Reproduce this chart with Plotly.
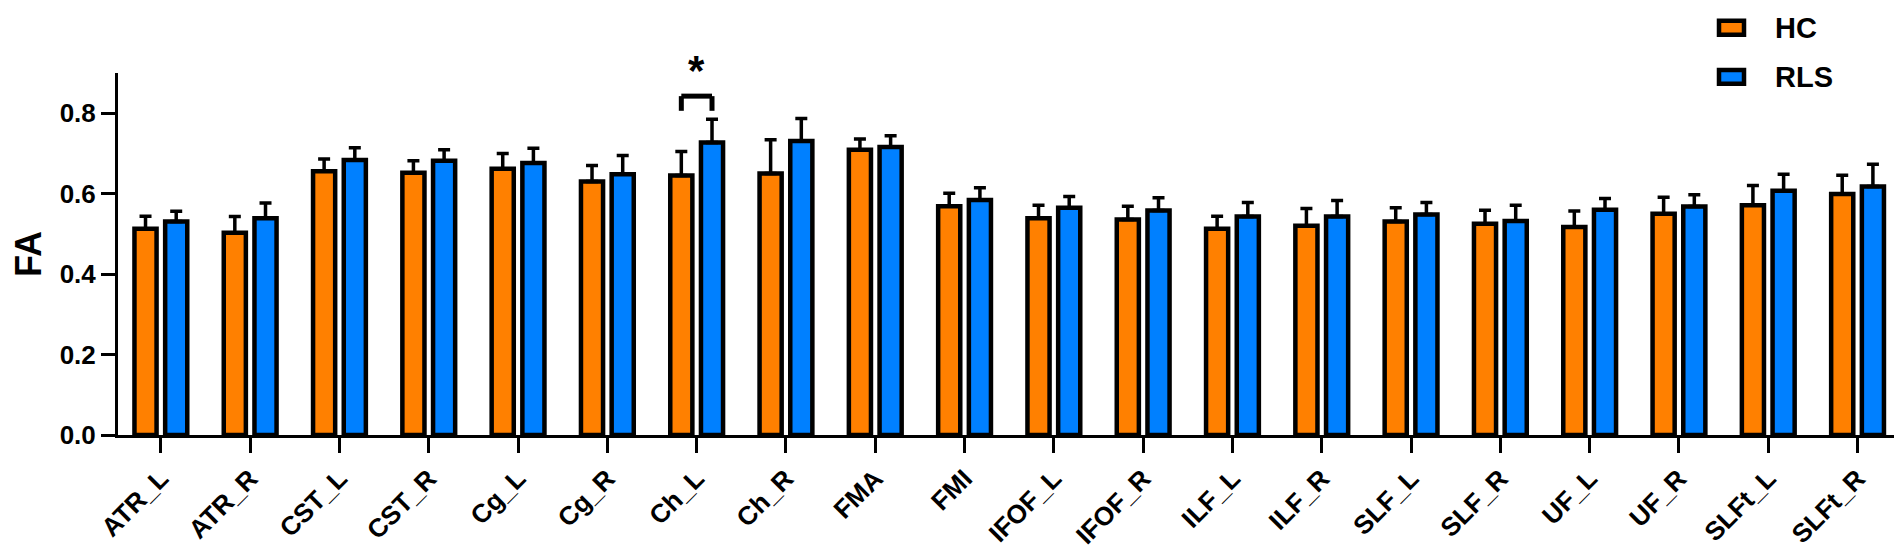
import plotly.graph_objects as go

# Data (mean FA and SD, upper error only)
tracts = ["ATR_L", "ATR_R", "CST_L", "CST_R", "Cg_L", "Cg_R", "Ch_L", "Ch_R", "FMA", "FMI",
          "IFOF_L", "IFOF_R", "ILF_L", "ILF_R", "SLF_L", "SLF_R", "UF_L", "UF_R", "SLFt_L", "SLFt_R"]
hc_mean = [0.513, 0.503, 0.656, 0.652, 0.662, 0.630, 0.645, 0.650, 0.709, 0.569,
           0.539, 0.536, 0.513, 0.520, 0.531, 0.525, 0.517, 0.550, 0.571, 0.599]
hc_err = [0.031, 0.040, 0.030, 0.030, 0.038, 0.040, 0.060, 0.084, 0.027, 0.032,
          0.032, 0.033, 0.031, 0.043, 0.034, 0.034, 0.040, 0.041, 0.049, 0.047]
rls_mean = [0.531, 0.539, 0.684, 0.682, 0.676, 0.648, 0.727, 0.731, 0.716, 0.584,
            0.565, 0.558, 0.543, 0.543, 0.548, 0.532, 0.560, 0.568, 0.607, 0.618]
rls_err = [0.025, 0.038, 0.030, 0.027, 0.037, 0.047, 0.058, 0.056, 0.028, 0.031,
           0.028, 0.032, 0.035, 0.040, 0.030, 0.039, 0.028, 0.029, 0.041, 0.055]

# significant pair
sig_tract = "Ch_L"
sig_label = "*"

ORANGE = "#FF8000"
BLUE = "#0080FF"
FONT = "Arial, Liberation Sans, sans-serif"

W, H = 1902, 548
ML, MR, MT, MB = 110, 6, 65, 115
BARGAP = 0.3125

fig = go.Figure()
for name, mean, err, color in [("HC", hc_mean, hc_err, ORANGE), ("RLS", rls_mean, rls_err, BLUE)]:
    fig.add_trace(go.Bar(
        name=name, x=tracts, y=mean,
        marker=dict(color=color, line=dict(color="black", width=4.5)),
        error_y=dict(type="data", array=err, arrayminus=[0] * len(err), symmetric=False,
                     color="black", thickness=3.5, width=6),
        showlegend=False,
    ))


def px_to_paper(px, py):
    return (px - ML) / (W - ML - MR), (H - MB - py) / (H - MT - MB)


# legend drawn by hand so the swatches match the original
for label, color, ytop in [("HC", ORANGE, 12), ("RLS", BLUE, 62)]:
    x0, y0 = px_to_paper(1711, ytop)
    x1, y1 = px_to_paper(1736, ytop + 14)
    fig.add_shape(type="rect", xref="paper", yref="paper", x0=x0, x1=x1, y0=y0, y1=y1,
                  fillcolor=color, line=dict(color="black", width=4.5))
    tx, ty = px_to_paper(1765, ytop + 7)
    fig.add_annotation(xref="paper", yref="paper", x=tx, y=ty, text=label, showarrow=False,
                       xanchor="left", yanchor="middle",
                       font=dict(family=FONT, size=29, color="black", weight="bold"))

# significance bracket over Ch_L
i = tracts.index(sig_tract)
off = (1 - BARGAP) / 4
y_top = 0.8425
y_leg = 0.806
for xa, ya, xb, yb in [(i - off, y_leg, i - off, y_top), (i - off, y_top, i + off, y_top),
                       (i + off, y_top, i + off, y_leg)]:
    fig.add_shape(type="line", xref="x", yref="y", x0=xa, y0=ya, x1=xb, y1=yb,
                  line=dict(color="black", width=5))
fig.add_annotation(x=i, y=y_top, xref="x", yref="y", text=sig_label, showarrow=False,
                   yanchor="bottom", yshift=0,
                   font=dict(family=FONT, size=42, color="black", weight="bold"))

fig.update_layout(
    width=W, height=H,
    margin=dict(l=ML, r=MR, t=MT, b=MB),
    plot_bgcolor="white", paper_bgcolor="white",
    barmode="group", bargap=BARGAP, bargroupgap=0.28,
    font=dict(family=FONT, size=26, color="black", weight="bold"),
    xaxis=dict(
        range=[-0.48, len(tracts) - 0.48], showline=True, linecolor="black", linewidth=3,
        ticks="outside", ticklen=15, tickwidth=3, tickcolor="black", tickangle=-45,
        showgrid=False, tickfont=dict(size=26, weight="bold"),
    ),
    yaxis=dict(
        range=[0, 0.9], showline=True, linecolor="black", linewidth=3,
        ticks="outside", ticklen=14, tickwidth=3, tickcolor="black",
        tickvals=[0, 0.2, 0.4, 0.6, 0.8], tickformat=".1f", showgrid=False, zeroline=False,
        tickfont=dict(size=26, weight="bold"),
        title=dict(text="FA", font=dict(size=36, weight="bold"), standoff=16),
    ),
)

fig.write_html("out.html")
